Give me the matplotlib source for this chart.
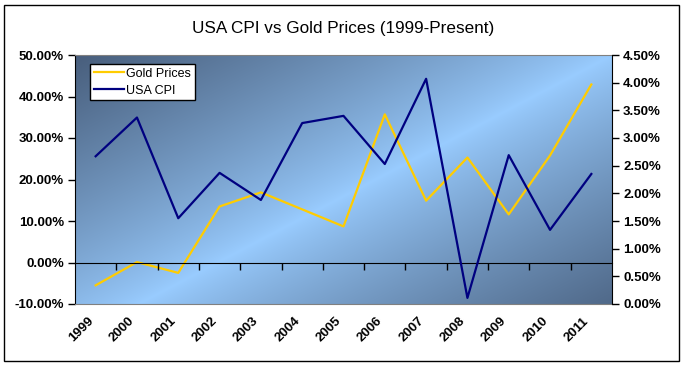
import matplotlib
matplotlib.use("Agg")
import matplotlib.pyplot as plt
import numpy as np
from matplotlib.patches import Rectangle
from matplotlib.ticker import FuncFormatter

plt.rcParams["font.family"] = ["Liberation Sans", "DejaVu Sans"]

# values
years = [str(y) for y in range(1999, 2012)]
gold_prices = [-5.5, 0.1, -2.5, 13.5, 16.9, 12.8, 8.7, 35.7, 14.9, 25.3, 11.6, 25.8, 42.9]
usa_cpi = [2.67, 3.37, 1.55, 2.37, 1.88, 3.27, 3.40, 2.53, 4.07, 0.11, 2.69, 1.34, 2.35]
left_ticks = [-10, 0, 10, 20, 30, 40, 50]
right_ticks = [0, 0.5, 1.0, 1.5, 2.0, 2.5, 3.0, 3.5, 4.0, 4.5]

W, H = 684, 366
fig = plt.figure(figsize=(W / 100, H / 100), dpi=100)
fig.patch.set_facecolor("white")
pos = [75 / W, 1 - 304 / H, (612 - 75) / W, (304 - 55) / H]
ax1 = fig.add_axes(pos)

# plot area gradient: dark corners, light diagonal
gx, gy = np.meshgrid(np.linspace(0, 1, 400), np.linspace(1, 0, 200))
t = np.clip(np.abs(gx - 0.12 - 0.88 * gy), 0, 1) ** 0.85
light = np.array([153, 204, 255]) / 255
dark = np.array([72, 94, 124]) / 255
img = light + (dark - light) * t[..., None]
ax1.imshow(img, extent=(0, 1, 0, 1), transform=ax1.transAxes, aspect="auto",
           zorder=0, interpolation="bilinear")

x = np.arange(len(years))
l1, = ax1.plot(x, gold_prices, color="#FFCC00", lw=1.6, label="Gold Prices", zorder=3)
ax1.set_xlim(-0.5, len(years) - 0.5)
ax1.set_ylim(-10, 50)
ax1.set_yticks(left_ticks)
ax1.yaxis.set_major_formatter(FuncFormatter(lambda v, p: "%.2f%%" % v))
ax1.set_xticks(x)
ax1.set_xticklabels(years, rotation=45, ha="right", fontweight="bold", fontsize=9.5)
ax1.tick_params(axis="x", length=0, pad=8)
ax1.tick_params(axis="y", direction="out", length=5, width=1, pad=3, labelsize=9.5)
for lab in ax1.get_yticklabels():
    lab.set_fontweight("bold")
ax1.spines["left"].set_color("black")
ax1.spines["top"].set_color("#808080")
ax1.spines["bottom"].set_color("#808080")
ax1.spines["right"].set_visible(False)

# category axis crossing at 0% with tick marks between categories
ax3 = fig.add_axes(pos, facecolor="none")
ax3.set_xlim(ax1.get_xlim())
ax3.set_ylim(ax1.get_ylim())
for s in ["left", "right", "top"]:
    ax3.spines[s].set_visible(False)
ax3.spines["bottom"].set_position(("data", 0))
ax3.spines["bottom"].set_color("black")
ax3.set_yticks([])
ax3.set_xticks(x[:-1] + 0.5)
ax3.set_xticklabels([])
ax3.tick_params(axis="x", direction="out", length=5, width=1)

ax2 = ax1.twinx()
l2, = ax2.plot(x, usa_cpi, color="#000080", lw=1.6, label="USA CPI", zorder=3)
ax2.set_ylim(0, 4.5)
ax2.set_yticks(right_ticks)
ax2.yaxis.set_major_formatter(FuncFormatter(lambda v, p: "%.2f%%" % v))
ax2.tick_params(axis="y", direction="out", length=5, width=1, pad=3, labelsize=9.5)
for lab in ax2.get_yticklabels():
    lab.set_fontweight("bold")
ax2.spines["right"].set_color("black")
for s in ["left", "top", "bottom"]:
    ax2.spines[s].set_visible(False)

leg = ax2.legend(handles=[l1, l2], loc="upper left", bbox_to_anchor=(0.028, 0.964),
                 borderaxespad=0, fancybox=False, framealpha=1, edgecolor="black",
                 fontsize=9, handlelength=2.4, handletextpad=0.2,
                 borderpad=0.3, labelspacing=0.4)
leg.get_frame().set_linewidth(1)

fig.text(343 / W, 1 - 28 / H, "USA CPI vs Gold Prices (1999-Present)",
         ha="center", va="center", fontsize=12.3)
fig.patches.append(Rectangle((4 / W, 5 / H), 675 / W, 356 / H, transform=fig.transFigure,
                             fill=False, ec="black", lw=1))

fig.savefig("out.png", dpi=100)
